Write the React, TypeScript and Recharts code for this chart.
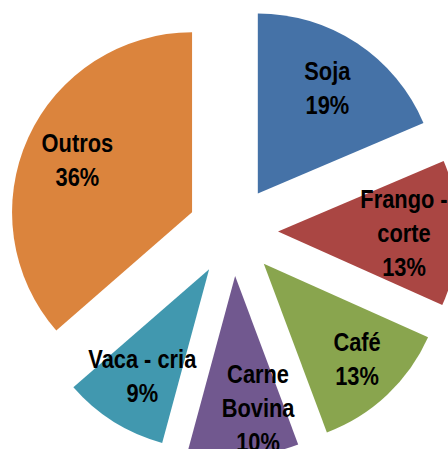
import React from 'react';
import { PieChart, Pie, Sector } from 'recharts';

const categories = ['Soja', 'Frango - corte', 'Café', 'Carne Bovina', 'Vaca - cria', 'Outros'];
const shares = [18.6, 13.1, 12.6, 9.9, 9.4, 36.4];
const colors = ['#4572A7', '#AA4643', '#89A54E', '#71588F', '#4198AF', '#DB843D'];

const data = categories.map((name, i) => ({ name, value: shares[i] }));

const RADIAN = Math.PI / 180;
const EXPLODE = 45; // how far each slice is pulled out from the centre
const LINE_H = 34;
// the spreadsheet pushed a couple of labels a bit off the slice axis
const LABEL_SHIFT: Record<string, [number, number]> = { 'Carne Bovina': [17, 6], 'Café': [7, 3] };

// long names wrap onto two lines, like the spreadsheet did
const wrap = (name: string) => {
  if (name.length <= 11) return [name];
  const cut = name.lastIndexOf(' ');
  return [name.slice(0, cut), name.slice(cut + 1)];
};

// draws the exploded slice and its label; the pie's own sectors stay invisible
const renderSlice = (props: any) => {
  const { cx, cy, midAngle, outerRadius, startAngle, endAngle, percent, index, name } = props;
  const dx = Math.cos(-midAngle * RADIAN);
  const dy = Math.sin(-midAngle * RADIAN);
  const ox = cx + EXPLODE * dx;
  const oy = cy + EXPLODE * dy;
  const shift = LABEL_SHIFT[name] || [0, 0];
  const lx = ox + outerRadius * 0.7 * dx + shift[0];
  const ly = oy + outerRadius * 0.7 * dy + shift[1];
  const lines = [...wrap(name), `${Math.round(percent * 100)}%`];

  return (
    <g key={`slice-${index}`}>
      <Sector
        cx={ox}
        cy={oy}
        innerRadius={0}
        outerRadius={outerRadius}
        startAngle={startAngle}
        endAngle={endAngle}
        fill={colors[index]}
        stroke="none"
      />
      {/* narrow bold face: Liberation Sans squeezed horizontally */}
      <text
        transform={`translate(${lx},${ly}) scale(0.84,1)`}
        textAnchor="middle"
        fill="#000"
        style={{ fontFamily: '"Liberation Sans", Arial, sans-serif', fontWeight: 700, fontSize: 26 }}
      >
        {lines.map((t, i) => (
          <tspan key={i} x={0} y={(i - (lines.length - 1) / 2) * LINE_H} dy="0.35em">
            {t}
          </tspan>
        ))}
      </text>
    </g>
  );
};

export default function App() {
  return (
    <div style={{ position: 'absolute', left: 0, top: 0, width: 448, height: 449, overflow: 'hidden', background: '#fff' }}>
      <PieChart width={448} height={449} margin={{ top: 0, right: 0, bottom: 0, left: 0 }}>
        <Pie
          data={data}
          dataKey="value"
          nameKey="name"
          cx={233}
          cy={231}
          outerRadius={180}
          startAngle={90}
          endAngle={-270}
          fill="none"
          stroke="none"
          label={renderSlice}
          labelLine={false}
          isAnimationActive={false}
        />
      </PieChart>
    </div>
  );
}
